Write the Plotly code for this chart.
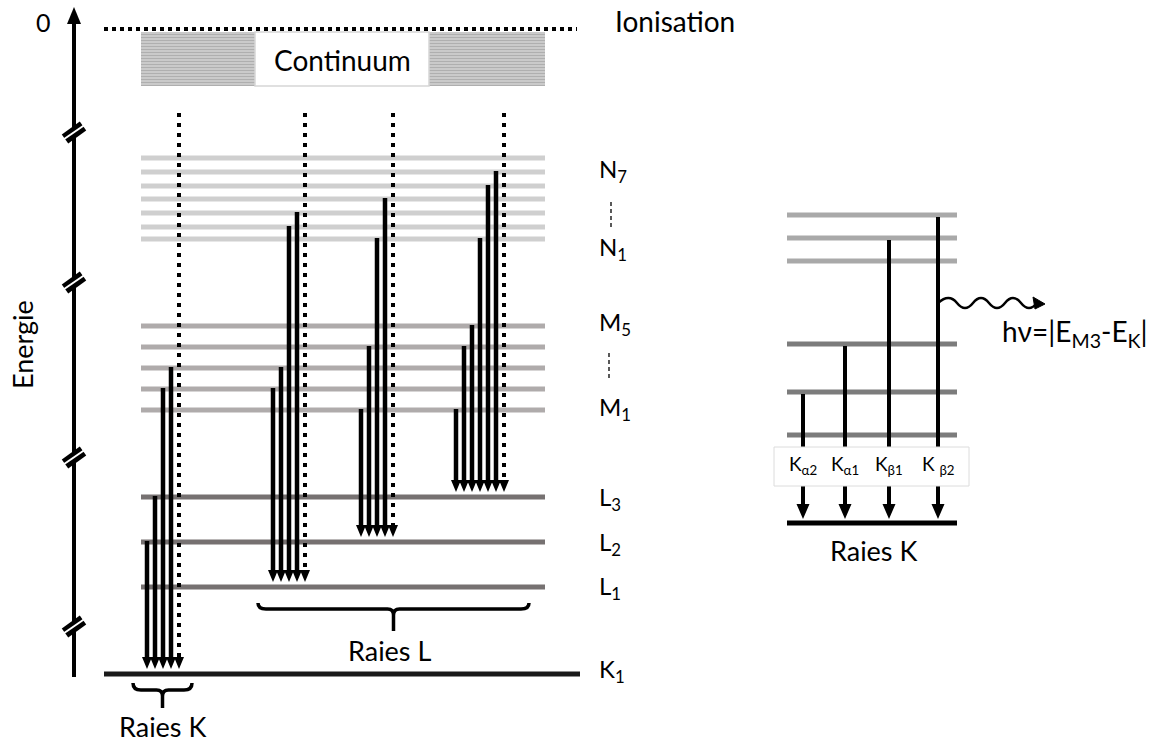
import plotly.graph_objects as go

# energy levels of the atom, diagram units (top of page = 0, grows downwards)
ionisation_level = 29
continuum_top = 32
continuum_bottom = 86
continuum_exit = 113
n_levels = [158, 172, 186, 199, 213, 227, 239]   # N7 ... N1
m_levels = [326, 347, 368, 389, 410]              # M5 ... M1
l_levels = [497, 542, 587]                        # L3, L2, L1
k_level = 674

# transitions: starting level of each solid arrow, per series
k_from = [l_levels[1], l_levels[0], m_levels[3], m_levels[2]]
l1_from = [m_levels[3], m_levels[2], n_levels[5], n_levels[4]]
l2_from = [m_levels[4], m_levels[1], n_levels[6], n_levels[3]]
l3_from = [m_levels[4], m_levels[1], m_levels[0], n_levels[6], n_levels[2], n_levels[1]]
series_from = [k_from, l1_from, l2_from, l3_from]
series_to = [k_level, l_levels[2], l_levels[1], l_levels[0]]
series_x0 = [147, 273, 361, 456]

level_labels = ["N<sub>7</sub>", "N<sub>1</sub>", "M<sub>5</sub>", "M<sub>1</sub>",
                "L<sub>3</sub>", "L<sub>2</sub>", "L<sub>1</sub>", "K<sub>1</sub>"]
level_label_y = [n_levels[1] - 2, n_levels[-1] + 9, m_levels[0] - 3, m_levels[-1] - 2,
                 l_levels[0] + 1, l_levels[1] + 1, l_levels[2], k_level - 4]

axis_breaks = [132, 282, 457, 626]

# small K-series diagram on the right
right_levels = [215, 238, 261, 344, 392, 435]
right_k = 523
right_from = [right_levels[4], right_levels[3], right_levels[1], right_levels[0]]
right_x = [803, 845, 889, 938]
right_labels = ["K<sub>α2</sub>", "K<sub>α1</sub>", "K<sub>β1</sub>", "K <sub>β2</sub>"]

W, H = 1161, 742
FONT = "Lato, Calibri, sans-serif"
LEFT_X0, LEFT_X1 = 141, 545
RIGHT_X0, RIGHT_X1 = 787, 957
STEP = 8


def hlines(ys, x0, x1):
    xs, yy = [], []
    for y in ys:
        xs += [x0, x1, None]
        yy += [y, y, None]
    return xs, yy


def vlines(xs_, tops, bottoms):
    xs, yy = [], []
    for x, t, b in zip(xs_, tops, bottoms):
        xs += [x, x, None]
        yy += [t, b, None]
    return xs, yy


def heads(xs_, tips, w, h):
    xs, yy = [], []
    for x, t in zip(xs_, tips):
        xs += [x - w / 2, x + w / 2, x, x - w / 2, None]
        yy += [t - h, t - h, t, t - h, None]
    return xs, yy


def line_trace(xy, color, width, dash=None):
    return go.Scatter(x=xy[0], y=xy[1], mode="lines", hoverinfo="skip",
                      line=dict(color=color, width=width, dash=dash))


def fill_trace(xy, color):
    return go.Scatter(x=xy[0], y=xy[1], mode="lines", fill="toself", fillcolor=color,
                      line=dict(width=0), hoverinfo="skip")


fig = go.Figure()

# continuum hatching
hatch_x = [LEFT_X0, 255, 255, LEFT_X0, LEFT_X0, None, 429, LEFT_X1, LEFT_X1, 429, 429]
hatch_y = [continuum_top, continuum_top, continuum_bottom, continuum_bottom, continuum_top, None,
           continuum_top, continuum_top, continuum_bottom, continuum_bottom, continuum_top]
fig.add_trace(go.Scatter(x=hatch_x, y=hatch_y, mode="lines", fill="toself", hoverinfo="skip",
                         line=dict(width=0),
                         fillpattern=dict(shape="-", fgcolor="#8a8a8a", bgcolor="#d4d4d4",
                                          size=3, solidity=0.5)))

# levels
fig.add_trace(line_trace(hlines(n_levels, LEFT_X0, LEFT_X1), "#cfcfcf", 5))
fig.add_trace(line_trace(hlines(m_levels, LEFT_X0, LEFT_X1), "#afabab", 5))
fig.add_trace(line_trace(hlines(l_levels, LEFT_X0, LEFT_X1), "#767171", 5))
fig.add_trace(line_trace(hlines([k_level], 104, 580), "#1a1a1a", 5))
fig.add_trace(line_trace(([104, 577], [ionisation_level, ionisation_level]), "black", 4, "4px,4px"))

# transitions
shaft_x, shaft_top, shaft_bot = [], [], []
dot_x, dot_bot, head_x, head_tip = [], [], [], []
for x0, froms, to in zip(series_x0, series_from, series_to):
    tip = to - 5
    for i, f in enumerate(froms):
        shaft_x.append(x0 + i * STEP)
        shaft_top.append(f - 1)
        shaft_bot.append(tip - 10)
    xd = x0 + len(froms) * STEP
    dot_x.append(xd)
    dot_bot.append(tip - 10)
    head_x += [x0 + i * STEP for i in range(len(froms) + 1)]
    head_tip += [tip] * (len(froms) + 1)

fig.add_trace(line_trace(vlines(shaft_x, shaft_top, shaft_bot), "black", 4.5))
fig.add_trace(line_trace(vlines(dot_x, [continuum_exit] * len(dot_x), dot_bot), "black", 4, "4px,6px"))
fig.add_trace(fill_trace(heads(head_x, head_tip, 10, 12), "black"))

# energy axis
fig.add_trace(line_trace(([74, 74], [677, 20]), "black", 4))
fig.add_trace(fill_trace(heads([74], [7], 14, -17), "black"))
for yb in axis_breaks:
    fig.add_trace(line_trace(([65, 83], [yb + 7, yb - 6]), "black", 11))
    fig.add_trace(line_trace(([62, 86], [yb + 8.5, yb - 8]), "white", 2))

# right diagram
fig.add_trace(line_trace(hlines(right_levels[:3], RIGHT_X0, RIGHT_X1), "#a9a9a9", 5))
fig.add_trace(line_trace(hlines(right_levels[3:], RIGHT_X0, RIGHT_X1), "#7c7c7c", 5))
fig.add_trace(line_trace(hlines([right_k], RIGHT_X0, RIGHT_X1), "black", 5))
fig.add_trace(line_trace(vlines(right_x, [f + 2 for f in right_from], [right_k - 18] * 4), "black", 4))
fig.add_trace(fill_trace(heads(right_x, [right_k - 4] * 4, 13, 15), "black"))

shapes = [
    dict(type="rect", x0=255, x1=429, y0=continuum_top, y1=continuum_bottom,
         fillcolor="white", line=dict(color="#d6d6d6", width=1.5)),
    dict(type="rect", x0=774, x1=969, y0=447, y1=486,
         fillcolor="white", line=dict(color="#dcdcdc", width=1)),
    # dashed "..." between N7/N1 and M5/M1
    dict(type="line", x0=611, x1=611, y0=202, y1=229, line=dict(color="black", width=1.3, dash="4px,3px")),
    dict(type="line", x0=609, x1=609, y0=353, y1=379, line=dict(color="black", width=1.3, dash="4px,3px")),
]


def brace(x0, x1, ytop, ymid, ystem, r=8):
    cx = (x0 + x1) / 2
    return (f"M {x0},{ytop} Q {x0},{ymid} {x0 + r},{ymid} L {cx - 6},{ymid} "
            f"Q {cx},{ymid} {cx},{ymid + 6} L {cx},{ystem} M {cx},{ymid + 6} "
            f"Q {cx},{ymid} {cx + 6},{ymid} L {x1 - r},{ymid} Q {x1},{ymid} {x1},{ytop}")


shapes.append(dict(type="path", path=brace(133, 192, 683, 690, 708), line=dict(color="black", width=3.5)))
shapes.append(dict(type="path", path=brace(258, 529, 603, 609, 631), line=dict(color="black", width=3.5)))

# photon wave from the K-beta2 line
wx0, wy, half, n_half, amp = 941, 303, 16, 6, 10
wave = f"M {wx0 - 3},{wy} Q {wx0 + half / 2},{wy - amp} {wx0 + half},{wy}"
for k in range(2, n_half + 1):
    wave += f" T {wx0 + k * half},{wy}"
shapes.append(dict(type="path", path=wave, line=dict(color="black", width=2.5)))
we = wx0 + n_half * half
shapes.append(dict(type="path", path=f"M {we - 4},{wy - 6} L {we + 8},{wy + 1} L {we - 2},{wy + 6} Z",
                   fillcolor="black", line=dict(color="black", width=1)))

ann = []


def text(x, y, s, size, anchor="center", angle=0):
    ann.append(dict(x=x, y=y, text=s, showarrow=False, xanchor=anchor, yanchor="middle",
                    textangle=angle, font=dict(family=FONT, size=size, color="black")))


text(43, 22, "0", 25)
text(675, 21, "Ionisation", 28)
text(342, 60, "Continuum", 28)
text(22, 345, "Energie", 27, angle=-90)
text(162, 726, "Raies K", 27)
text(389, 650, "Raies L", 27)
text(873, 550, "Raies K", 27)
text(1000, 333, "hν=|E<sub>M3</sub>-E<sub>K</sub>|", 28, anchor="left")
for s, y in zip(level_labels, level_label_y):
    text(597, y, s, 24, anchor="left")
for s, x in zip(right_labels, right_x):
    text(x, 465, s, 19)

fig.update_layout(
    width=W, height=H, margin=dict(l=0, r=0, t=0, b=0),
    paper_bgcolor="white", plot_bgcolor="white", showlegend=False,
    xaxis=dict(range=[0, W], visible=False, fixedrange=True),
    yaxis=dict(range=[H, 0], visible=False, fixedrange=True),
    shapes=shapes, annotations=ann,
)

fig.write_html("out.html", config={"displayModeBar": False},
               post_script="document.body.style.margin='0';")
